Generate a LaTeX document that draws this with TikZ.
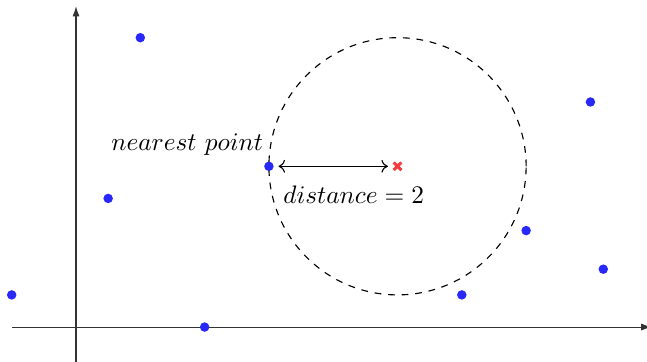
\documentclass[tikz,border=0pt]{standalone}
\usetikzlibrary{arrows.meta,calc}
\definecolor{ptblue}{RGB}{40,40,250}
\definecolor{xred}{RGB}{245,60,60}
\begin{document}
\begin{tikzpicture}[x=1cm,y=1cm,
  pt/.style={circle,fill=ptblue,inner sep=0pt,minimum size=4.2pt},
  axis/.style={-{Latex[length=1.6mm,width=1.1mm]},line width=0.45pt,black!80},
  lbl/.style={scale=1.12}]
\useasboundingbox (-1.182,-0.529) rectangle (8.880,5.086);
\draw[axis] (-1,0) -- (8.95,0);
\draw[axis] (0,-0.6) -- (0,4.99);
\draw[dashed,line width=0.5pt] (5,2.5) circle (2);
\node[pt] (p1) at (1,4.5) {};
\node[pt] (p2) at (0.5,2) {};
\node[pt] (p3) at (-1,0.5) {};
\node[pt] (p4) at (2,0) {};
\node[pt] (p5) at (3,2.5) {};
\node[pt] (p6) at (6,0.5) {};
\node[pt] (p7) at (7,1.5) {};
\node[pt] (p8) at (8,3.5) {};
\node[pt] (p9) at (8.2,0.9) {};
\coordinate (q) at (5,2.5);
\draw[xred,line width=1.3pt] ($(q)+(-0.06,-0.06)$) -- ($(q)+(0.06,0.06)$) ($(q)+(-0.06,0.06)$) -- ($(q)+(0.06,-0.06)$);
\draw[{To[length=1mm,width=2mm]}-{To[length=1mm,width=2mm]},line width=0.5pt] ([xshift=0.15cm]p5.center) -- ([xshift=-0.15cm]q);
\node[lbl] (lab1) at (1.73,2.83) {$nearest\ point$};
\node[lbl] (lab2) at (4.32,2.06) {$distance=2$};
\end{tikzpicture}
\end{document}
